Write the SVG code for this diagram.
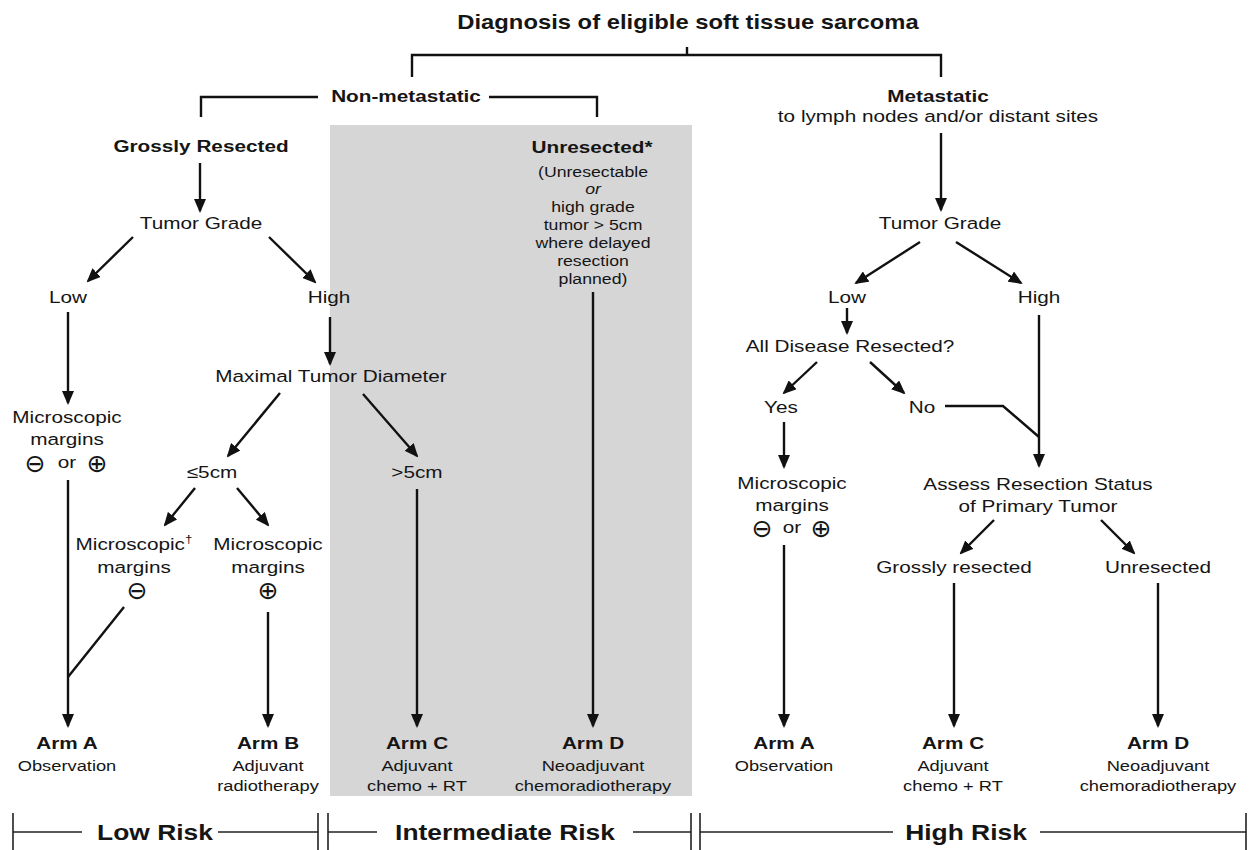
<svg xmlns="http://www.w3.org/2000/svg" width="1256" height="850" viewBox="0 0 1256 850">
<style>
text{font-family:"Liberation Sans",Arial,Helvetica,sans-serif;fill:#151515;text-anchor:middle}
.r{font-size:17px}
.b{font-size:17px;font-weight:bold}
.s{font-size:14.5px}
.d{font-size:15px}
.ttl{font-size:19.5px;font-weight:bold}
.risk{font-size:22px;font-weight:bold}
.sym{font-family:"DejaVu Sans",sans-serif;font-size:25px}
.ln{stroke:#111;stroke-width:2.4;fill:none}
.ar{marker-end:url(#ah)}
.rb{stroke:#222;stroke-width:1.6;fill:none}
</style>
<defs>
<marker id="ah" markerUnits="userSpaceOnUse" viewBox="0 0 14 12" markerWidth="14" markerHeight="12" refX="12" refY="6" orient="auto">
<path d="M0,0 L14,6 L0,12 z" fill="#111"/>
</marker>
</defs>
<rect id="intermediate-zone" x="330" y="125" width="362" height="671" fill="#d6d6d6"/>
<g id="title"><text class="ttl" transform="translate(688,29) scale(1.22,1)">Diagnosis of eligible soft tissue sarcoma</text></g>
<g id="non-metastatic"><text class="b" transform="translate(406,102) scale(1.22,1)">Non-metastatic</text></g>
<g id="metastatic"><text class="b" transform="translate(938,102) scale(1.22,1)">Metastatic</text><text class="r" transform="translate(938,122) scale(1.22,1)">to lymph nodes and/or distant sites</text></g>
<g id="grossly-resected"><text class="b" transform="translate(201,152) scale(1.22,1)">Grossly Resected</text></g>
<g id="unresected"><text class="b" transform="translate(592,153) scale(1.22,1)">Unresected*</text>
<text class="s" transform="translate(593,177) scale(1.22,1)"><tspan x="0" y="0">(Unresectable</tspan><tspan x="0" y="17.5" font-style="italic">or</tspan><tspan x="0" y="35.5">high grade</tspan><tspan x="0" y="53">tumor &gt; 5cm</tspan><tspan x="0" y="71">where delayed</tspan><tspan x="0" y="89">resection</tspan><tspan x="0" y="107">planned)</tspan></text></g>
<g id="tumor-grade-l"><text class="r" transform="translate(201,229) scale(1.22,1)">Tumor Grade</text></g>
<g id="low-l"><text class="r" transform="translate(68,303) scale(1.22,1)">Low</text></g>
<g id="high-l"><text class="r" transform="translate(329,303) scale(1.22,1)">High</text></g>
<g id="max-diameter"><text class="r" transform="translate(331,382) scale(1.22,1)">Maximal Tumor Diameter</text></g>
<g id="margins-any-l"><text class="r" transform="translate(67,423) scale(1.22,1)"><tspan x="0" y="0">Microscopic</tspan><tspan x="0" y="22">margins</tspan><tspan x="0" y="45">or</tspan></text><text class="sym" x="35" y="472">⊖</text><text class="sym" x="97" y="472">⊕</text></g>
<g id="le5"><text class="r" transform="translate(212,478) scale(1.22,1)">≤5cm</text></g>
<g id="gt5"><text class="r" transform="translate(417,478) scale(1.22,1)">&gt;5cm</text></g>
<g id="margins-neg"><text class="r" transform="translate(134,550) scale(1.22,1)"><tspan x="0" y="0">Microscopic<tspan font-size="11px" dy="-7">†</tspan></tspan><tspan x="0" y="23">margins</tspan></text><text class="sym" x="137" y="599">⊖</text></g>
<g id="margins-pos"><text class="r" transform="translate(268,550) scale(1.22,1)"><tspan x="0" y="0">Microscopic</tspan><tspan x="0" y="23">margins</tspan></text><text class="sym" x="268" y="599">⊕</text></g>
<g id="tumor-grade-r"><text class="r" transform="translate(940,229) scale(1.22,1)">Tumor Grade</text></g>
<g id="low-r"><text class="r" transform="translate(847,303) scale(1.22,1)">Low</text></g>
<g id="high-r"><text class="r" transform="translate(1039,303) scale(1.22,1)">High</text></g>
<g id="all-resected"><text class="r" transform="translate(850,352) scale(1.22,1)">All Disease Resected?</text></g>
<g id="yes"><text class="r" transform="translate(781,413) scale(1.22,1)">Yes</text></g>
<g id="no"><text class="r" transform="translate(922,413) scale(1.22,1)">No</text></g>
<g id="margins-any-r"><text class="r" transform="translate(792,489) scale(1.22,1)"><tspan x="0" y="0">Microscopic</tspan><tspan x="0" y="22">margins</tspan><tspan x="0" y="44">or</tspan></text><text class="sym" x="762" y="537">⊖</text><text class="sym" x="821" y="537">⊕</text></g>
<g id="assess"><text class="r" transform="translate(1038,490) scale(1.22,1)"><tspan x="0" y="0">Assess Resection Status</tspan><tspan x="0" y="22">of Primary Tumor</tspan></text></g>
<g id="grossly-resected-r"><text class="r" transform="translate(954,573) scale(1.22,1)">Grossly resected</text></g>
<g id="unresected-r"><text class="r" transform="translate(1158,573) scale(1.22,1)">Unresected</text></g>
<g id="arm-a-l"><text class="b" transform="translate(67,749) scale(1.22,1)">Arm A</text><text class="d" transform="translate(67,771) scale(1.22,1)">Observation</text></g>
<g id="arm-b"><text class="b" transform="translate(268,749) scale(1.22,1)">Arm B</text><text class="d" transform="translate(268,771) scale(1.22,1)"><tspan x="0" y="0">Adjuvant</tspan><tspan x="0" y="20">radiotherapy</tspan></text></g>
<g id="arm-c-l"><text class="b" transform="translate(417,749) scale(1.22,1)">Arm C</text><text class="d" transform="translate(417,771) scale(1.22,1)"><tspan x="0" y="0">Adjuvant</tspan><tspan x="0" y="20">chemo + RT</tspan></text></g>
<g id="arm-d-l"><text class="b" transform="translate(593,749) scale(1.22,1)">Arm D</text><text class="d" transform="translate(593,771) scale(1.22,1)"><tspan x="0" y="0">Neoadjuvant</tspan><tspan x="0" y="20">chemoradiotherapy</tspan></text></g>
<g id="arm-a-r"><text class="b" transform="translate(784,749) scale(1.22,1)">Arm A</text><text class="d" transform="translate(784,771) scale(1.22,1)">Observation</text></g>
<g id="arm-c-r"><text class="b" transform="translate(953,749) scale(1.22,1)">Arm C</text><text class="d" transform="translate(953,771) scale(1.22,1)"><tspan x="0" y="0">Adjuvant</tspan><tspan x="0" y="20">chemo + RT</tspan></text></g>
<g id="arm-d-r"><text class="b" transform="translate(1158,749) scale(1.22,1)">Arm D</text><text class="d" transform="translate(1158,771) scale(1.22,1)"><tspan x="0" y="0">Neoadjuvant</tspan><tspan x="0" y="20">chemoradiotherapy</tspan></text></g>
<g id="connectors">
<path class="ln" d="M687,47 V55 M412,77 V55 H941 V77"/>
<path class="ln" d="M201,117 V97 H318 M489,97 H597 V117"/>
<path class="ln ar" d="M941,133 V210"/>
<path class="ln ar" d="M200,163 V211"/>
<path class="ln ar" d="M133,237 L88,281"/>
<path class="ln ar" d="M269,237 L315,282"/>
<path class="ln ar" d="M68,312 V403"/>
<path class="ln ar" d="M330,317 V364"/>
<path class="ln ar" d="M280,393 L228,456"/>
<path class="ln ar" d="M363,394 L417,456"/>
<path class="ln ar" d="M195,488 L165,525"/>
<path class="ln ar" d="M237,488 L268,525"/>
<path class="ln ar" d="M68,480 V726"/>
<path class="ln" d="M124,607 L68,677"/>
<path class="ln ar" d="M268,612 V726"/>
<path class="ln ar" d="M417,489 V726"/>
<path class="ln ar" d="M593,292 V726"/>
<path class="ln ar" d="M920,242 L856,283"/>
<path class="ln ar" d="M956,242 L1021,283"/>
<path class="ln ar" d="M847,308 V333"/>
<path class="ln ar" d="M817,362 L784,393"/>
<path class="ln ar" d="M870,362 L904,393"/>
<path class="ln" d="M945,406 H1003 L1039,437"/>
<path class="ln ar" d="M1039,315 V466"/>
<path class="ln ar" d="M784,422 V467"/>
<path class="ln ar" d="M784,545 V726"/>
<path class="ln ar" d="M994,520 L961,553"/>
<path class="ln ar" d="M1101,520 L1134,553"/>
<path class="ln ar" d="M954,583 V726"/>
<path class="ln ar" d="M1158,583 V726"/>
</g>
<g id="risk-bar">
<path class="rb" d="M13,813 V850 M318,813 V850 M328,813 V850 M691,813 V850 M700,813 V850 M1246,813 V850"/>
<path class="rb" d="M13,832 H82 M218,832 H318 M328,832 H377 M633,832 H691 M700,832 H893 M1040,832 H1246"/>
<text class="risk" transform="translate(155,840) scale(1.2,1)">Low Risk</text>
<text class="risk" transform="translate(505,840) scale(1.2,1)">Intermediate Risk</text>
<text class="risk" transform="translate(966,840) scale(1.2,1)">High Risk</text>
</g>
</svg>
